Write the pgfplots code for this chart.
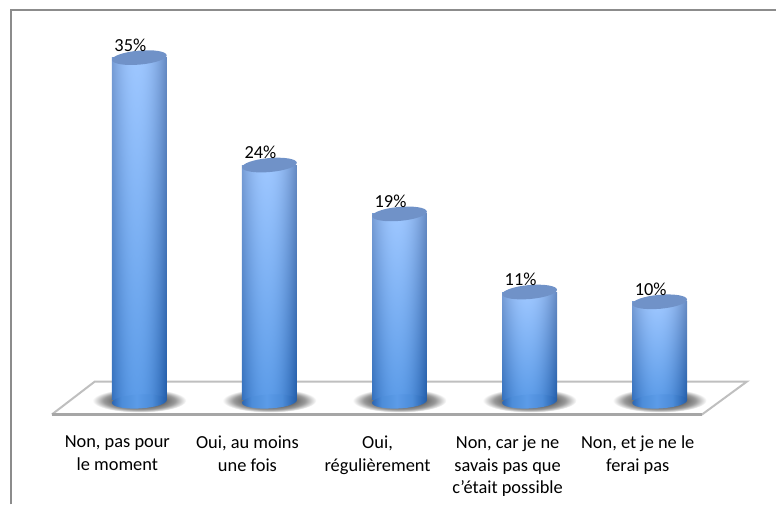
\documentclass[border=0pt]{standalone}
\usepackage{pgfplots}
\pgfplotsset{compat=1.18}
\usepackage{fontspec}
\setmainfont{Carlito}
\newlength{\px}\setlength{\px}{0.75pt}
\pgfdeclarefunctionalshading{cyl}{\pgfpoint{-50bp}{-50bp}}{\pgfpoint{50bp}{50bp}}{}{
25 add 50 div exch 2.5 add abs 27.5 div dup mul
1 index .26 mul .36 add 1 index .23 mul sub
2 index .17 mul .61 add 2 index .25 mul sub
3 index .09 mul .91 add 3 index .25 mul sub
5 -2 roll pop pop
}
\definecolor{capc}{RGB}{112,146,200}
\definecolor{botE}{rgb}{.17,.40,.70}
\definecolor{botL}{rgb}{.13,.36,.66}
\definecolor{botQ}{rgb}{.30,.55,.85}
\definecolor{botM}{rgb}{.36,.61,.91}
\pgfdeclarehorizontalshading{botshade}{100bp}{color(0bp)=(botE); color(25bp)=(botE); color(33.75bp)=(botQ); color(47.5bp)=(botM); color(61.25bp)=(botQ); color(75bp)=(botL); color(100bp)=(botL)}
\pgfdeclareradialshading{shadowfade}{\pgfpointorigin}{color(0bp)=(black!60); color(13bp)=(black!60); color(19bp)=(black!40); color(25bp)=(white); color(50bp)=(white)}
\pgfdeclareplotmark{captop}{\pgftransformrotate{5}\pgfpathellipse{\pgfpointorigin}{\pgfpoint{27.5\px}{0pt}}{\pgfpoint{0pt}{7\px}}\pgfusepathqfill}
\pgfdeclareplotmark{capbot}{\pgftransformyshift{-2\px}\pgftransformrotate{3}\pgfpathellipse{\pgfpointorigin}{\pgfpoint{27.5\px}{0pt}}{\pgfpoint{0pt}{7\px}}\pgfshadepath{botshade}{0}\pgfusepath{discard}}
\pgfdeclareplotmark{shad}{\pgftransformyshift{-1\px}\pgfpathellipse{\pgfpointorigin}{\pgfpoint{47\px}{0pt}}{\pgfpoint{0pt}{12\px}}\pgfshadepath{shadowfade}{0}\pgfusepath{discard}}
\pgfplotsset{common/.style={
  scale only axis, width=777\px, height=505\px,
  xmin=-1.071, xmax=4.894, ymin=-10.736, ymax=40.90,
  clip=false, at={(0,0)}, anchor=south west}}
\begin{document}
\begin{tikzpicture}
\begin{axis}[common, axis lines=none]
\path (rel axis cs:0,0) rectangle (rel axis cs:1,1);
% frame
\addplot[sharp plot, draw=black!45, line width=2\px, forget plot] coordinates {(-0.990,-10.736) (-0.990,39.83) (4.894,39.83)};
% floor
\addplot[sharp plot, draw=black!25, line width=2\px, fill=white, forget plot] coordinates {(-0.672,-1.53) (-0.342,1.84) (4.671,1.84) (4.326,-1.53) (-0.672,-1.53)};
\addplot[sharp plot, draw=black!35, line width=2.5\px, forget plot] coordinates {(-0.672,-1.53) (4.326,-1.53)};
% shadows
\addplot[only marks, mark=shad, forget plot] coordinates {(0,0) (1,0) (2,0) (3,0) (4,0)};
\end{axis}
\begin{axis}[common,
  axis x line*=bottom, axis y line=none,
  x axis line style={draw=none},
  xtick={0,1,2,3,4},
  xticklabels={{Non, pas pour\\le moment},{Oui, au moins\\une fois},{Oui,\\régulièrement},{Non, car je ne\\savais pas que\\c'était possible},{Non, et je ne le\\ferai pas}},
  major tick length=0pt,
  xticklabel style={align=center, font=\fontsize{13.8}{16.7}\selectfont, anchor=north, yshift=73\px, xshift=-22\px},
  bar width=55\px,
]
% bars
\addplot[ybar, bar shift=0pt, draw=none, shade, shading=cyl, forget plot] coordinates {(0,35)};
\addplot[ybar, bar shift=0pt, draw=none, shade, shading=cyl, forget plot] coordinates {(1,24)};
\addplot[ybar, bar shift=0pt, draw=none, shade, shading=cyl, forget plot] coordinates {(2,19)};
\addplot[ybar, bar shift=0pt, draw=none, shade, shading=cyl, forget plot] coordinates {(3,11)};
\addplot[ybar, bar shift=0pt, draw=none, shade, shading=cyl, forget plot] coordinates {(4,10)};
% caps
\addplot[only marks, mark=capbot, forget plot] coordinates {(0,0) (1,0) (2,0) (3,0) (4,0)};
\addplot[only marks, mark=captop, mark options={fill=capc, draw=none}, forget plot,
  nodes near coords={\pgfmathprintnumber{\pgfplotspointmeta}\%},
  /pgf/number format/assume math mode=true,
  point meta=y,
  every node near coord/.style={anchor=center, xshift=-9\px, yshift=12.5\px, font=\fontsize{13.8}{15}\selectfont, text=black}
] coordinates {(0,35) (1,24) (2,19) (3,11) (4,10)};
\end{axis}
\end{tikzpicture}
\end{document}
